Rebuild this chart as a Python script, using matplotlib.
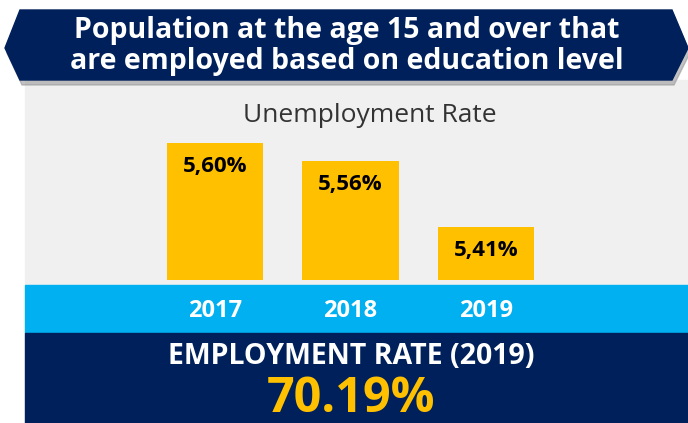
import matplotlib.pyplot as plt
from matplotlib.patches import Polygon, Rectangle

# ---- data ----
years = ['2017', '2018', '2019']
unemployment = [5.60, 5.56, 5.41]
value_labels = ['5,60%', '5,56%', '5,41%']
employment_rate_2019 = '70.19%'

title = 'Population at the age 15 and over that\nare employed based on education level'
subtitle = 'Unemployment Rate'
footer_label = 'EMPLOYMENT RATE (2019)'

NAVY = '#00205b'
GOLD = '#ffc000'
BLUE = '#00b0f0'
PANEL = '#f0f0f0'

W, H = 688, 423
plt.rcParams['font.family'] = ['Open Sans', 'DejaVu Sans']

fig = plt.figure(figsize=(W / 100, H / 100), dpi=100)
fig.patch.set_facecolor('white')

# fond en coordonnées pixels
bg = fig.add_axes([0, 0, 1, 1])
bg.set_xlim(0, W)
bg.set_ylim(H, 0)
bg.axis('off')

bg.add_patch(Rectangle((25, 80), W - 25, 205, color=PANEL, zorder=0))
bg.add_patch(Rectangle((25, 285), W - 25, 48, color=BLUE, zorder=0))
bg.add_patch(Rectangle((25, 333), W - 25, 90, color=NAVY, zorder=0))

# bannière (ombre + forme)
pts = [(20, 10), (672, 10), (688, 48), (672, 80), (20, 80), (5, 48)]
shadow = [(x + 2, y + 5) for x, y in pts]
bg.add_patch(Polygon(shadow, closed=True, color='#9a9a9a', alpha=0.6, zorder=1))
bg.add_patch(Polygon(pts, closed=True, color=NAVY, zorder=2))
bg.text(347, 46, title, ha='center', va='center', color='white', fontsize=20.5,
        fontweight='bold', linespacing=1.1, zorder=3)

bg.text(370, 116, subtitle, ha='center', va='center', color='#333333', fontsize=19)
bg.text(351, 356, footer_label, ha='center', va='center', color='white', fontsize=20.5,
        fontweight='bold')
bg.text(351, 399, employment_rate_2019, ha='center', va='center', color=GOLD,
        fontsize=35, fontweight='bold')

# barres
ylow = 5.29
px_per_unit = 442
ax_left, ax_right = 147.5, 553.5
ax_top, ax_bottom = 130, 280
ax = fig.add_axes([ax_left / W, 1 - ax_bottom / H, (ax_right - ax_left) / W,
                   (ax_bottom - ax_top) / H])
ax.patch.set_alpha(0)
x = range(len(years))
bars = ax.bar(x, [v - ylow for v in unemployment], bottom=ylow, width=0.71, color=GOLD)
ax.set_xlim(-0.5, 2.5)
ax.set_ylim(ylow, ylow + (ax_bottom - ax_top) / px_per_unit)
for b, lab in zip(bars, value_labels):
    ax.annotate(lab, (b.get_x() + b.get_width() / 2, b.get_y() + b.get_height()),
                xytext=(0, -24), textcoords='offset pixels', ha='center', va='center',
                fontsize=16, fontweight='bold', color='black')
ax.set_xticks(list(x))
ax.set_xticklabels(years, color='white', fontsize=17, fontweight='bold')
ax.tick_params(axis='x', length=0, pad=14)
ax.set_yticks([])
for s in ax.spines.values():
    s.set_visible(False)

fig.savefig('out.png', dpi=100)
